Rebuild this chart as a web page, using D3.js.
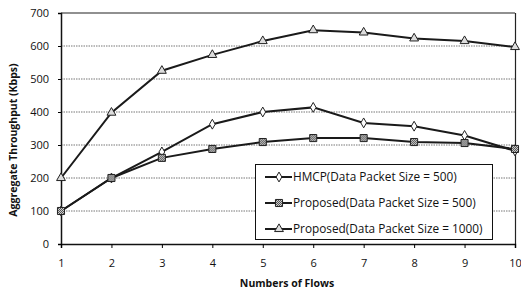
<!DOCTYPE html>
<html><head><meta charset="utf-8">
<script src="https://cdn.jsdelivr.net/npm/d3@7"></script>
<style>body{margin:0;background:#fff}svg{display:block}text{font-family:"Open Sans",Lato,sans-serif}</style>
</head><body><svg id="c" width="521" height="296"></svg>
<script>
const flows = [1,2,3,4,5,6,7,8,9,10];
const yTicks = [0,100,200,300,400,500,600,700];
const hmcp500 = [100,200,279,363,400,414,367,357,329,282];
const prop500 = [100,200,261,288,309,321,321,309,306,288];
const prop1000 = [200,398,525,573,615,648,641,623,615,597];
const seriesNames = ["HMCP(Data Packet Size = 500)","Proposed(Data Packet Size = 500)","Proposed(Data Packet Size = 1000)"];
const xTitle = "Numbers of Flows";
const yTitle = "Aggregate Throughput (Kbps)";

const svg = d3.select("#c");
const L=61,R=515,T=13,B=244;
const x = d3.scalePoint().domain(flows).range([L,R]);
const y = d3.scaleLinear().domain([0,700]).range([B,T]);

svg.append("g").selectAll("line").data(yTicks.filter(v=>v>0&&v<700)).join("line")
  .attr("x1",L).attr("x2",R).attr("y1",d=>y(d)).attr("y2",d=>y(d))
  .attr("stroke","#777").attr("stroke-width",1).attr("stroke-dasharray","1.5,1");
svg.append("line").attr("x1",L).attr("x2",R).attr("y1",y(700)).attr("y2",y(700)).attr("stroke","#222").attr("stroke-width",1.2);
svg.append("line").attr("x1",R+0.5).attr("x2",R+0.5).attr("y1",y(700)).attr("y2",B).attr("stroke","#222").attr("stroke-width",1.2);

const ya = svg.append("g").attr("transform",`translate(${L},0)`)
  .call(d3.axisLeft(y).tickValues(yTicks).tickSize(3).tickPadding(9));
ya.select(".domain").attr("stroke","#111").attr("stroke-width",1.5);
ya.selectAll("text").attr("font-size",11).attr("fill","#111");
const xa = svg.append("g").attr("transform",`translate(0,${B})`)
  .call(d3.axisBottom(x).tickSize(4).tickPadding(11));
xa.select(".domain").attr("stroke","#111").attr("stroke-width",1.5);
xa.selectAll("text").attr("font-size",11).attr("fill","#111");

svg.append("text").attr("x",287).attr("y",287).attr("text-anchor","middle")
  .attr("font-size",10.5).attr("font-weight","bold").attr("fill","#111").text(xTitle);
svg.append("text").attr("transform","translate(17,140) rotate(-90)").attr("text-anchor","middle")
  .attr("font-size",10.5).attr("font-weight","bold").attr("fill","#111").text(yTitle);

const defs = svg.append("defs");
const pat = defs.append("pattern").attr("id","hatch").attr("width",2).attr("height",2).attr("patternUnits","userSpaceOnUse");
pat.append("rect").attr("width",2).attr("height",2).attr("fill","#ccc");
pat.append("rect").attr("width",1).attr("height",1).attr("fill","#555");
pat.append("rect").attr("x",1).attr("y",1).attr("width",1).attr("height",1).attr("fill","#555");

const series = [
  {name:seriesNames[0], vals:hmcp500, sym:d3.symbolDiamond, size:28, fill:"#fff"},
  {name:seriesNames[1], vals:prop500, sym:d3.symbolSquare, size:50, fill:"url(#hatch)"},
  {name:seriesNames[2], vals:prop1000, sym:d3.symbolTriangle, size:34, fill:"#ddd"}
];
const line = d3.line().x((d,i)=>x(flows[i])).y(d=>y(d));
[2,0,1].forEach(k=>{
  const s=series[k];
  svg.append("path").attr("d",line(s.vals)).attr("fill","none").attr("stroke","#1a1a1a").attr("stroke-width",2);
});
[2,0,1].forEach(k=>{
  const s=series[k];
  svg.append("g").selectAll("path").data(s.vals).join("path")
    .attr("transform",(d,i)=>`translate(${x(flows[i])},${y(d)})`)
    .attr("d",d3.symbol().type(s.sym).size(s.size))
    .attr("fill",s.fill).attr("stroke","#222").attr("stroke-width",1);
});

const lg = svg.append("g");
lg.append("rect").attr("x",255.5).attr("y",164.5).attr("width",237).attr("height",75)
  .attr("fill","#fff").attr("stroke","#111").attr("stroke-width",1);
series.forEach((s,i)=>{
  const yy = 177 + i*26;
  lg.append("line").attr("x1",265).attr("x2",292).attr("y1",yy).attr("y2",yy).attr("stroke","#1a1a1a").attr("stroke-width",2);
  lg.append("path").attr("transform",`translate(279,${yy})`).attr("d",d3.symbol().type(s.sym).size(s.size))
    .attr("fill",s.fill).attr("stroke","#222").attr("stroke-width",1);
  lg.append("text").attr("x",293).attr("y",yy).attr("dy","0.35em").attr("font-size",11.8).attr("fill","#111").text(s.name);
});
</script></body></html>
